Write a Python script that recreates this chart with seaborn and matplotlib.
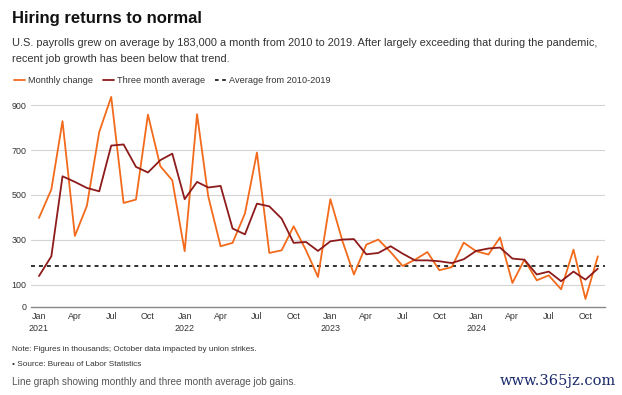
import pandas as pd
import numpy as np
import seaborn as sns
import matplotlib.pyplot as plt
import matplotlib.dates as mdates
from matplotlib.lines import Line2D

# monthly payroll change, thousands (Jan 2021 - Nov 2024)
months = pd.date_range('2021-01-01', periods=47, freq='MS')
monthly_change = [397, 524, 829, 317, 451, 781, 937, 464, 479, 858, 628, 565,
                  249, 860, 494, 271, 286, 417, 689, 241, 253, 360, 253, 134,
                  481, 290, 145, 278, 301, 245, 183, 211, 245, 164, 178, 287,
                  249, 234, 310, 107, 211, 119, 141, 79, 256, 36, 226]
three_month_avg = [138, 226, 583, 558, 531, 516, 720, 725, 625, 600, 655, 684,
                   481, 558, 533, 540, 350, 324, 461, 449, 394, 286, 290, 250,
                   293, 301, 303, 235, 241, 271, 238, 208, 208, 204, 196, 213,
                   250, 261, 265, 216, 211, 145, 158, 115, 158, 122, 171]
avg_2010_2019 = 183

y_ticks = [0, 100, 300, 500, 700, 900]
tick_dates = pd.date_range('2021-01-01', '2024-10-01', freq='QS')
tick_labels = ['Jan\n2021', 'Apr', 'Jul', 'Oct', 'Jan\n2022', 'Apr', 'Jul', 'Oct',
               'Jan\n2023', 'Apr', 'Jul', 'Oct', 'Jan\n2024', 'Apr', 'Jul', 'Oct']

orange = '#F26A1B'
darkred = '#8E1B1B'

df = pd.DataFrame({
    'date': list(months) * 2,
    'value': monthly_change + three_month_avg,
    'series': ['Monthly change'] * len(months) + ['Three month average'] * len(months),
})

sns.set_style('white')
plt.rcParams['font.family'] = ['Liberation Sans', 'DejaVu Sans']

fig = plt.figure(figsize=(6.22, 3.95), dpi=100)
ax = fig.add_axes([0.0498, 0.2228, 0.9229, 0.5392])

sns.lineplot(data=df, x='date', y='value', hue='series',
             palette={'Monthly change': orange, 'Three month average': darkred},
             linewidth=1.3, ax=ax, legend=False)
ax.axhline(avg_2010_2019, color='#222222', linestyle=(0, (2.2, 2.2)), linewidth=1.3, zorder=1)

ax.set_ylim(0, 950)
ax.set_xlim(months[0] - pd.Timedelta(days=20), months[-1] + pd.Timedelta(days=18))
ax.set_yticks(y_ticks)
ax.set_xticks(tick_dates)
ax.set_xticklabels(tick_labels)
ax.set_xlabel('')
ax.set_ylabel('')
for y in y_ticks[1:]:
    ax.axhline(y, color='#d4d4d4', linewidth=0.8, zorder=0)
for s in ['top', 'right', 'left']:
    ax.spines[s].set_visible(False)
ax.spines['bottom'].set_color('#888888')
ax.spines['bottom'].set_linewidth(1.0)
ax.tick_params(axis='both', length=0, labelsize=6.4, colors='#333333')
ax.tick_params(axis='x', pad=3.5)
ax.tick_params(axis='y', pad=3)
for lab in ax.get_xticklabels():
    lab.set_linespacing(1.5)

fig.text(0.019, 0.954, 'Hiring returns to normal', fontsize=12, fontweight='bold',
         color='#111111', va='center')
fig.text(0.019, 0.870, 'U.S. payrolls grew on average by 183,000 a month from 2010 to 2019. '
         'After largely exceeding that during the pandemic,\nrecent job growth has been below that trend.',
         fontsize=7.95, color='#333333', va='center', linespacing=1.75)

handles = [Line2D([0], [0], color=orange, lw=1.3),
           Line2D([0], [0], color=darkred, lw=1.3),
           Line2D([0], [0], color='#222222', lw=1.3, linestyle=(0, (2, 2)))]
fig.legend(handles, ['Monthly change', 'Three month average', 'Average from 2010-2019'],
           loc='center left', bbox_to_anchor=(0.01, 0.795), ncol=3, frameon=False,
           fontsize=6.6, handlelength=1.2, handletextpad=0.3, columnspacing=1.1,
           labelcolor='#333333')

fig.text(0.019, 0.116, 'Note: Figures in thousands; October data impacted by union strikes.',
         fontsize=5.9, color='#333333', va='center')
fig.text(0.019, 0.078, '\u2022 Source: Bureau of Labor Statistics',
         fontsize=5.9, color='#333333', va='center')
fig.text(0.019, 0.032, 'Line graph showing monthly and three month average job gains.',
         fontsize=7.2, color='#555555', va='center')
fig.text(0.99, 0.035, 'www.365jz.com', fontsize=10.5, color='#1a2a6c', va='center',
         ha='right', family=['DejaVu Serif'])

fig.savefig('out.png', dpi=100)
